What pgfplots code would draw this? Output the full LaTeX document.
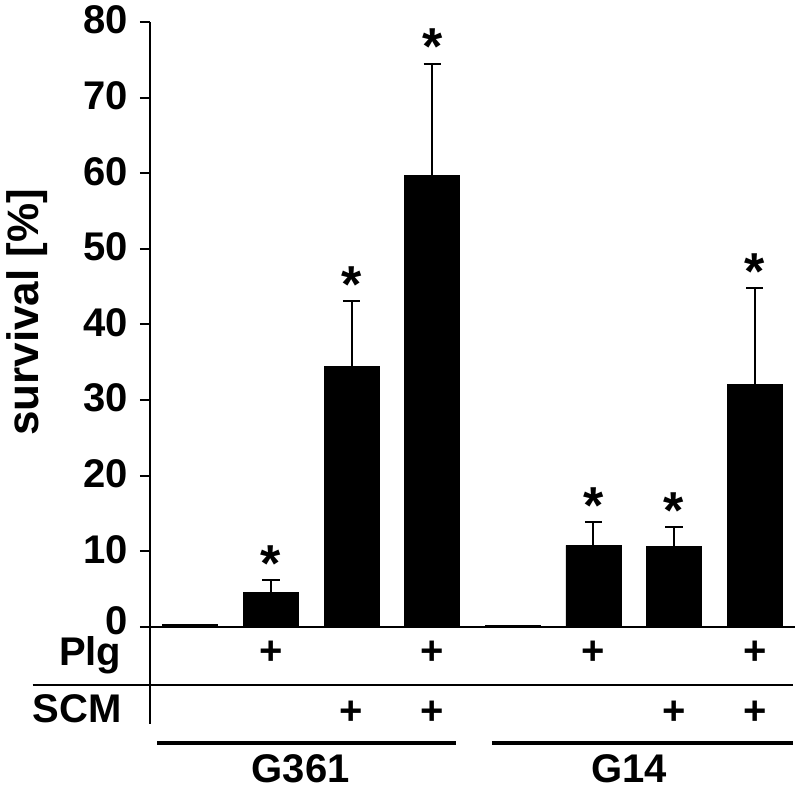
\documentclass[border=0pt]{standalone}
\usepackage{fontspec}
\setmainfont{Liberation Sans}
\usepackage{pgfplots}
\pgfplotsset{compat=1.18}
\usepackage{pgfplotstable}

\newcommand\lbl{\fontsize{20}{24}\selectfont\bfseries}

% survival per condition: x, mean, sem
\pgfplotstableread{
x y e
1 4.6 1.6
2 34.5 8.6
3 59.7 14.8
5 10.8 3.1
6 10.6 2.6
7 32.1 12.7
}\witherr
\pgfplotstableread{
x y
0 0.3
4 0.2
}\controls
% asterisk positions (top of star)
\pgfplotstableread{
x y
1 10.8
2 47.7
3 79.1
5 18.5
6 17.8
7 49.4
}\stars

\begin{document}
\begin{tikzpicture}
\useasboundingbox (-75pt,-84pt) rectangle (325pt,313.5pt);
\begin{axis}[
  at={(0,0)}, anchor=south west,
  scale only axis, width=322.5pt, height=302.5pt,
  xmin=-0.5, xmax=7.5, ymin=0, ymax=80,
  axis x line=bottom, axis y line=left,
  axis line style={-, line width=1pt},
  xtick=\empty,
  ytick={0,10,...,80},
  tick align=outside, major tick length=5pt,
  tick style={line width=1pt, black},
  yticklabel style={font=\lbl, inner sep=0pt, xshift=-6pt, yshift=1pt},
  yticklabel={\ifnum\ticknum=0 \raisebox{4pt}{\pgfmathprintnumber{\tick}}\else\pgfmathprintnumber{\tick}\fi},
  /pgf/number format/assume math mode=true,
  ylabel={survival [\%]},
  every axis y label/.style={at={(axis description cs:-0.19,0.52)}, rotate=90, anchor=center,
    font=\fontsize{22}{26}\selectfont\bfseries},
  clip=false,
]
\addplot[ybar, bar shift=0pt, bar width=27.5pt, fill=black, draw=black,
  error bars/.cd, y dir=plus, y explicit,
  error bar style={line width=1pt, black},
  error mark options={rotate=90, black, line width=1pt, mark size=4.3pt}]
  table[x=x, y=y, y error=e] {\witherr};
\addplot[ybar, bar shift=0pt, bar width=27.5pt, fill=black, draw=black]
  table[x=x, y=y] {\controls};
\addplot[only marks, mark=none, nodes near coords={*},
  every node near coord/.append style={anchor=north, inner sep=0pt,
    font=\fontsize{26}{30}\selectfont\bfseries}]
  table[x=x, y=y] {\stars};

% condition table below the axis
\draw[line width=1pt] (axis cs:-0.5,0) -- (axis cs:-0.5,-12.8);
\draw[line width=1pt] (axis cs:-1.955,-7.67) -- (axis cs:7.47,-7.67);
\node[anchor=base east, font=\lbl, inner sep=0pt] at (axis cs:-0.85,-5.03) {Plg};
\node[anchor=base east, font=\lbl, inner sep=0pt] at (axis cs:-0.85,-12.57) {SCM};
\node[font=\lbl, inner sep=0pt] at (axis cs:1,-3.44) {+};
\node[font=\lbl, inner sep=0pt] at (axis cs:3,-3.44) {+};
\node[font=\lbl, inner sep=0pt] at (axis cs:5,-3.44) {+};
\node[font=\lbl, inner sep=0pt] at (axis cs:7,-3.44) {+};
\node[font=\lbl, inner sep=0pt] at (axis cs:2,-11.4) {+};
\node[font=\lbl, inner sep=0pt] at (axis cs:3,-11.4) {+};
\node[font=\lbl, inner sep=0pt] at (axis cs:6,-11.4) {+};
\node[font=\lbl, inner sep=0pt] at (axis cs:7,-11.4) {+};
\draw[line width=2pt] (axis cs:-0.41,-15.3) -- (axis cs:3.30,-15.3);
\draw[line width=2pt] (axis cs:3.74,-15.3) -- (axis cs:7.47,-15.3);
\node[anchor=base, font=\lbl, inner sep=0pt] at (axis cs:1.37,-20.6) {G361};
\node[anchor=base, font=\lbl, inner sep=0pt] at (axis cs:5.44,-20.6) {G14};
\end{axis}
\end{tikzpicture}
\end{document}
